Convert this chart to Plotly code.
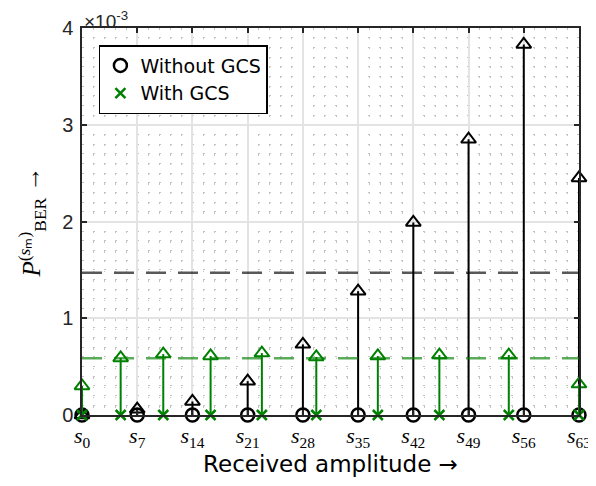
import plotly.graph_objects as go

# ---- data ----
sym_idx = [0, 7, 14, 21, 28, 35, 42, 49, 56, 63]
tick_labels = ["<i>s</i><sub>%d</sub>" % i for i in sym_idx]
ber_without = [0.0, 0.06e-3, 0.14e-3, 0.35e-3, 0.73e-3, 1.28e-3, 1.99e-3, 2.85e-3, 3.83e-3, 2.45e-3]
amp_with = [0.0, 4.9, 10.3, 16.3, 22.8, 29.7, 37.5, 45.3, 54.1, 63.0]
ber_with = [0.30e-3, 0.59e-3, 0.63e-3, 0.61e-3, 0.64e-3, 0.60e-3, 0.61e-3, 0.62e-3, 0.62e-3, 0.32e-3]
mean_without = 1.47e-3
mean_with = 0.586e-3
y_tickvals = [0, 1e-3, 2e-3, 3e-3, 4e-3]
y_ticktext = ["0", "1", "2", "3", "4"]

BLACK = "#000000"
GREEN = "#008000"

def stems(xs, ys):
    sx, sy = [], []
    for x, y in zip(xs, ys):
        sx += [x, x, None]
        sy += [0, y, None]
    return sx, sy

fig = go.Figure()

bx, by = stems(sym_idx, ber_without)
fig.add_trace(go.Scatter(x=bx, y=by, mode="lines", line=dict(color=BLACK, width=2),
                         showlegend=False, hoverinfo="skip", cliponaxis=False))
fig.add_trace(go.Scatter(x=sym_idx, y=ber_without, mode="markers",
                         marker=dict(symbol="triangle-up-open", size=13, color=BLACK, line=dict(width=2)),
                         showlegend=False, cliponaxis=False))
fig.add_trace(go.Scatter(x=sym_idx, y=[0] * len(sym_idx), mode="markers", name="Without GCS",
                         marker=dict(symbol="circle-open", size=13, color=BLACK, line=dict(width=2.5)),
                         cliponaxis=False))

gx, gy = stems(amp_with, ber_with)
fig.add_trace(go.Scatter(x=gx, y=gy, mode="lines", line=dict(color=GREEN, width=2),
                         showlegend=False, hoverinfo="skip", cliponaxis=False))
fig.add_trace(go.Scatter(x=amp_with, y=ber_with, mode="markers",
                         marker=dict(symbol="triangle-up-open", size=13, color=GREEN, line=dict(width=2)),
                         showlegend=False, cliponaxis=False))
fig.add_trace(go.Scatter(x=amp_with, y=[0] * len(amp_with), mode="markers", name="With GCS",
                         marker=dict(symbol="x-thin-open", size=10, color=GREEN, line=dict(width=2.5, color=GREEN)),
                         cliponaxis=False))

fig.add_trace(go.Scatter(x=[0, 63], y=[mean_without] * 2, mode="lines",
                         line=dict(color="rgba(0,0,0,0.65)", width=2.5, dash="20px,12px"),
                         showlegend=False, hoverinfo="skip"))
fig.add_trace(go.Scatter(x=[0, 63], y=[mean_with] * 2, mode="lines",
                         line=dict(color="rgba(0,128,0,0.65)", width=2.5, dash="20px,12px"),
                         showlegend=False, hoverinfo="skip"))

axis_common = dict(
    showline=True, linecolor="#262626", linewidth=1.5, mirror="ticks",
    ticks="inside", ticklen=5, tickwidth=1.5, tickcolor="#262626",
    showgrid=True, gridcolor="#e3e3e3", gridwidth=1.5, zeroline=False,
    automargin=False,
)

# page body has an 8px default margin, so the figure is offset by 8px
fig.update_layout(
    width=588, height=478,
    margin=dict(l=74, r=17, t=20, b=71),
    paper_bgcolor="white", plot_bgcolor="white",
    xaxis=dict(
        range=[0, 63], tickmode="array", tickvals=sym_idx, ticktext=tick_labels,
        tickfont=dict(family="Liberation Serif", size=22, color="#000"),
        minor=dict(tickmode="linear", tick0=0, dtick=1.4, showgrid=True,
                   gridcolor="#c2c2c2", griddash="1.5px,8.2px", gridwidth=1.2, ticks=""),
        title=dict(text="Received amplitude →", font=dict(family="DejaVu Sans", size=23, color="#000"),
                   standoff=4),
        **axis_common,
    ),
    yaxis=dict(
        range=[0, 4e-3], tickmode="array", tickvals=y_tickvals, ticktext=y_ticktext,
        tickfont=dict(family="Liberation Sans", size=20, color="#262626"),
        ticklabelstandoff=3,
        minor=dict(tickmode="linear", tick0=0, dtick=1e-4, showgrid=True,
                   gridcolor="#c2c2c2", griddash="1.5px,9.5px", gridwidth=1.2, ticks=""),
        title=dict(text="<i>P</i><sup>(<i>s</i>ₘ)</sup><sub>BER</sub> →",
                   font=dict(family="Liberation Serif", size=25, color="#000"), standoff=14),
        **axis_common,
    ),
    legend=dict(
        x=0.034, y=0.956, xanchor="left", yanchor="top",
        bgcolor="white", bordercolor="#000", borderwidth=1.5,
        font=dict(family="DejaVu Sans", size=19, color="#000"),
        itemwidth=30, tracegroupgap=0,
    ),
    annotations=[dict(
        text="×10<sup>-3</sup>", xref="paper", yref="paper", x=0.0, y=1.0,
        xanchor="left", yanchor="bottom", showarrow=False,
        font=dict(family="Liberation Sans", size=19, color="#262626"), yshift=-6,
    )],
)

fig.write_html("out.html")
